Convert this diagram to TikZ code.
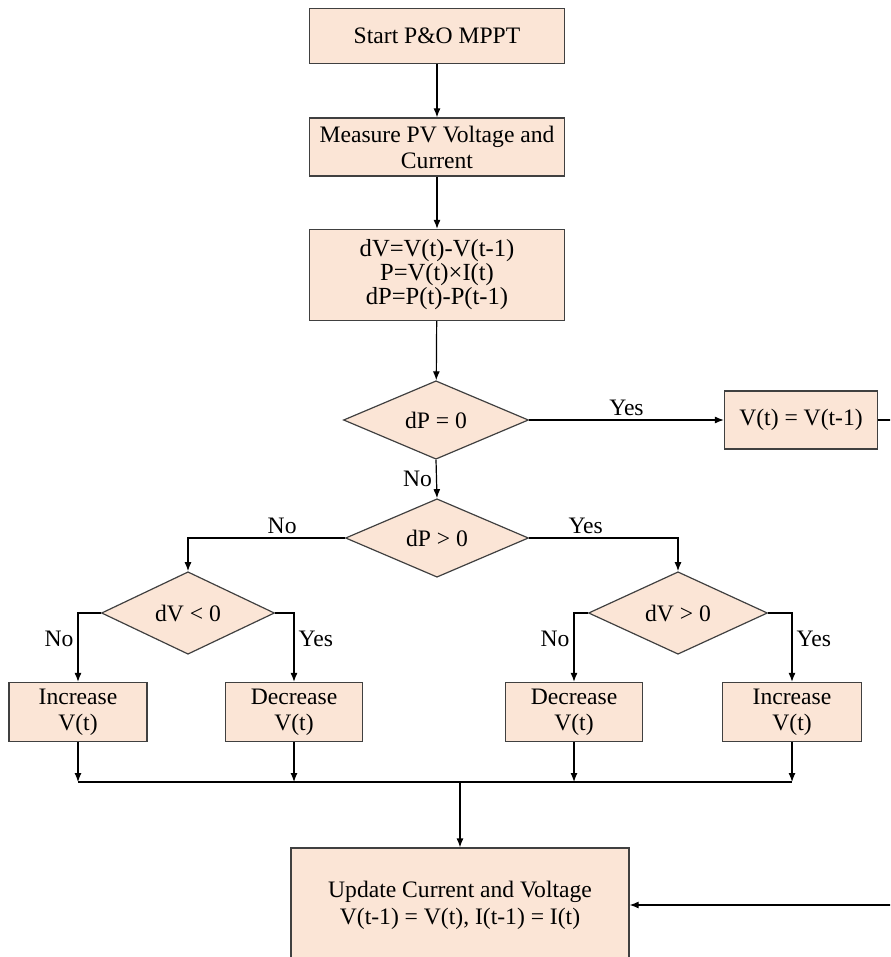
\documentclass[tikz,border=0pt]{standalone}
\usepackage{fontspec}
\setmainfont{Liberation Serif}
\usetikzlibrary{arrows.meta,shapes.geometric}
\definecolor{boxfill}{RGB}{251,229,214}
\definecolor{boxline}{RGB}{64,64,64}

\begin{document}
\begin{tikzpicture}[x=0.5pt,y=-0.5pt,>={Latex[length=4.5pt,width=3.5pt]},
  proc/.style={draw=boxline,fill=boxfill,line width=0.6pt,align=center,inner sep=1pt,
    font=\fontsize{11.8}{13}\selectfont},
  decision/.style={diamond,draw=boxline,fill=boxfill,line width=0.6pt,inner sep=0pt,
    font=\fontsize{11.8}{13}\selectfont},
  flow/.style={->,line width=0.6pt},
  lbl/.style={font=\fontsize{11.8}{13}\selectfont,inner sep=2pt}]
  \useasboundingbox (0,0) rectangle (890,957);
  \clip (0,0) rectangle (890,957);
  \node[proc,minimum width=127.5pt,minimum height=27.5pt] (start) at (437,36) {Start P\&O MPPT};
  \node[proc,minimum width=127.5pt,minimum height=29pt] (meas) at (437,147) {Measure PV Voltage and\\Current};
  \node[proc,minimum width=127.5pt,minimum height=45.5pt,font=\fontsize{12.3}{12}\selectfont] (calc) at (437,275)
    {dV=V(t)-V(t-1)\\P=V(t)×I(t)\\dP=P(t)-P(t-1)};
  \node[decision,minimum width=92.5pt,minimum height=36.5pt] (d0) at (436,420) {dP = 0};
  \node[proc,minimum width=76.5pt,minimum height=29pt] (hold) at (801,420) {V(t) = V(t-1)};
  \node[decision,minimum width=91.5pt,minimum height=38pt] (d1) at (437,538) {dP > 0};
  \node[decision,minimum width=86.5pt,minimum height=36.5pt] (d2) at (188,613) {dV < 0};
  \node[decision,minimum width=89.5pt,minimum height=36.5pt] (d3) at (678,613) {dV > 0};
  \node[proc,minimum width=69pt,minimum height=29.5pt] (incL) at (78,712) {Increase\\V(t)};
  \node[proc,minimum width=68.5pt,minimum height=29.5pt] (decL) at (294,712) {Decrease\\V(t)};
  \node[proc,minimum width=68.5pt,minimum height=29.5pt] (decR) at (574,712) {Decrease\\V(t)};
  \node[proc,minimum width=69.5pt,minimum height=29.5pt] (incR) at (792,712) {Increase\\V(t)};
  \node[proc,minimum width=169pt,minimum height=57pt,font=\fontsize{11.8}{13.5}\selectfont] (upd) at (460,905)
    {Update Current and Voltage\\V(t-1) = V(t), I(t-1) = I(t)};
  \coordinate (busL) at (78,782);
  \coordinate (busR) at (792,782);
  \coordinate (busM) at (460,782);

  \draw[flow] (start) -- (meas);
  \draw[flow] (meas) -- (calc);
  \draw[flow] (calc) -- (d0);
  \draw[flow] (d0.east) -- (hold.west) node[midway,above,lbl] {Yes};
  \draw[flow] (d0.south) -- (d1.north) node[midway,left,lbl] {No};
  \draw[flow] (d1.west) -| (d2.north) node[pos=0.2,above,lbl] {No};
  \draw[flow] (d1.east) -| (d3.north) node[pos=0.19,above,lbl] {Yes};
  \draw[flow] (d2.west) -| (incL.north) node[pos=0.69,left,lbl] {No};
  \draw[flow] (d2.east) -| (decL.north) node[pos=0.69,right,lbl] {Yes};
  \draw[flow] (d3.west) -| (decR.north) node[pos=0.69,left,lbl] {No};
  \draw[flow] (d3.east) -| (incR.north) node[pos=0.69,right,lbl] {Yes};
  \foreach \b in {incL,decL,decR,incR}
    \draw[flow] (\b.south) -- (\b.south |- busL);
  \draw[line width=0.6pt] (busL) -- (busR);
  \draw[flow] (busM) -- (upd.north);
  \draw[flow] (hold.east) -- ++(40,0) |- (upd.east);
\end{tikzpicture}
\end{document}
